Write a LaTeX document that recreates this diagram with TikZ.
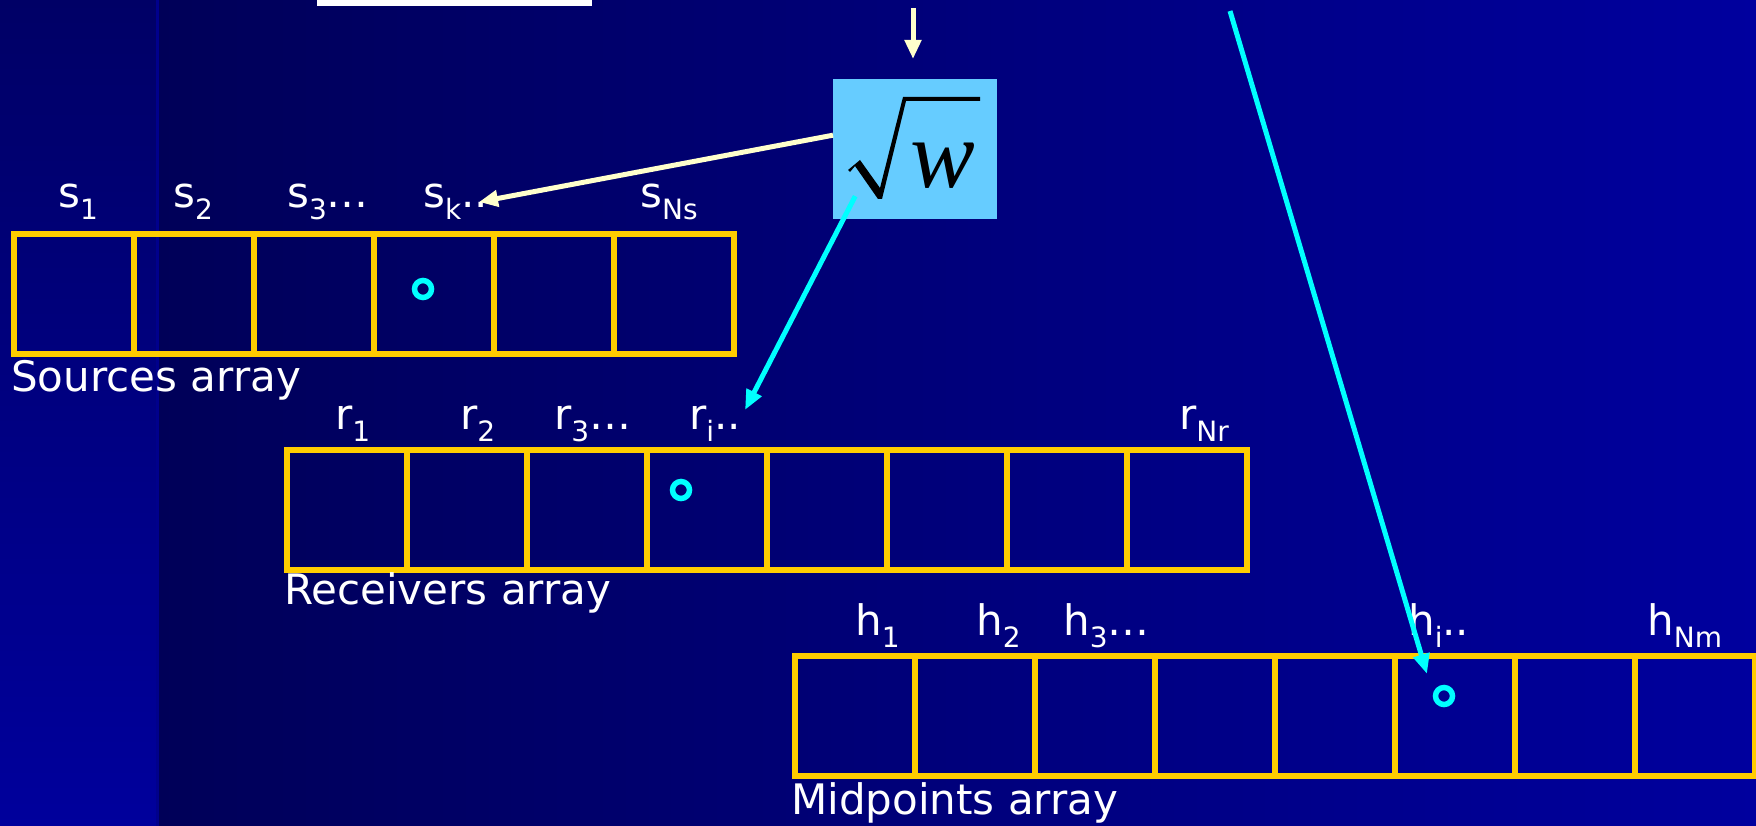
\documentclass[tikz,border=0pt]{standalone}
\usepackage{fontspec}
\setmainfont{DejaVu Sans}
\newfontfamily\tnrfont{Liberation Serif}
\usetikzlibrary{arrows.meta}
\definecolor{cellyellow}{RGB}{255,204,0}
\definecolor{cream}{RGB}{255,255,204}
\definecolor{cyanc}{RGB}{0,255,255}
\definecolor{sqblue}{RGB}{102,204,255}
\definecolor{bgleft}{RGB}{0,0,88}
\definecolor{bgright}{RGB}{0,0,158}
\definecolor{striptop}{RGB}{0,0,102}
\definecolor{stripbot}{RGB}{0,0,156}
\definecolor{stripline}{RGB}{0,0,140}
\newcommand{\lsub}[1]{\raisebox{-12pt}{\fontsize{28}{28}\selectfont #1}}
\begin{document}
\begin{tikzpicture}[x=1pt,y=-1pt,
  cell/.style={draw=cellyellow, line width=6pt, minimum width=120pt, minimum height=120pt, inner sep=0pt, anchor=north west},
  lbl/.style={text=white, font=\fontsize{42}{50}\selectfont, inner sep=0pt, anchor=base west},
  ring/.style={draw=cyanc, line width=5.5pt, circle, minimum size=17pt, inner sep=0pt},
  creamarrow/.style={draw=cream, line width=5pt, -{Triangle[length=19pt,width=16pt]}, fill=cream},
  cyanarrow/.style={draw=cyanc, line width=5pt, -{Triangle[length=20pt,width=16pt]}, fill=cyanc},
]
\useasboundingbox (0,0) rectangle (1756,826);
\clip (0,0) rectangle (1756,826);
% background
\shade[left color=bgleft, right color=bgright] (157,0) rectangle (1756,826);
\shade[top color=striptop, bottom color=stripbot] (0,0) rectangle (157,826);
\draw[stripline, line width=3pt] (157,0) -- (157,826);
% partial boxes at the top edge
\node[fill=white, minimum width=275pt, minimum height=60pt, inner sep=0pt, anchor=south west] (wbox) at (317,6) {};
\node[draw=red, line width=3pt, minimum width=614pt, minimum height=100pt, inner sep=0pt, anchor=south west] (redbox) at (977,0.5) {};
% arrays
\foreach \i in {1,...,6} \node[cell] (s\i) at ({11+120*(\i-1)},231) {};
\foreach \i in {1,...,8} \node[cell] (r\i) at ({284+120*(\i-1)},447) {};
\foreach \i in {1,...,8} \node[cell] (h\i) at ({792+120*(\i-1)},653) {};
% rings
\node[ring] (sdot) at (423,289) {};
\node[ring] (rdot) at (681,490) {};
\node[ring] (hdot) at (1444,696) {};
% labels
\node[lbl] (ls1) at (58,208) {s\lsub{1}};
\node[lbl] (ls2) at (173,208) {s\lsub{2}};
\node[lbl] (ls3) at (287,208) {s\lsub{3}…};
\node[lbl] (lsk) at (423,208) {s\lsub{k}..};
\node[lbl] (lsn) at (640,208) {s\lsub{Ns}};
\node[lbl] (lr1) at (335,429) {r\lsub{1}};
\node[lbl] (lr2) at (460,429) {r\lsub{2}};
\node[lbl] (lr3) at (554,429) {r\lsub{3}…};
\node[lbl] (lri) at (689,429) {r\lsub{i}..};
\node[lbl] (lrn) at (1179,429) {r\lsub{Nr}};
\node[lbl] (lh1) at (855,635) {h\lsub{1}};
\node[lbl] (lh2) at (976,635) {h\lsub{2}};
\node[lbl] (lh3) at (1063,635) {h\lsub{3}…};
\node[lbl] (lhi) at (1408,635) {h\lsub{i}..};
\node[lbl] (lhn) at (1647,635) {h\lsub{Nm}};
% captions
\node[lbl] (srccap) at (11,391) {Sources array};
\node[lbl] (rcvcap) at (284,604) {Receivers array};
\node[lbl] (midcap) at (791,814) {Midpoints array};
% sqrt box
\node[fill=sqblue, minimum width=164pt, minimum height=140pt, inner sep=0pt, anchor=north west] (sq) at (833,79) {};
\fill[black] (848,170) -- (860,160) -- (880,188) -- (903,97) -- (980,97) -- (980,101) -- (906,101) -- (882,199) -- (878,199) -- (855,166) -- (850,172) -- cycle;
\node[inner sep=0pt, anchor=base west, font=\tnrfont\itshape\fontsize{97}{97}\selectfont] (wlet) at (910,188) {w};
% arrows
\coordinate (topstart) at (913,8);
\draw[creamarrow, shorten >=20pt] (topstart) -- (topstart |- sq.north);
\coordinate (sktip) at (479,202);
\draw[creamarrow] ([yshift=14pt]sq.west) -- (sktip);
\coordinate (ritip) at (745,410);
\draw[cyanarrow] ([xshift=-60pt,yshift=-47pt]sq.center) -- (ritip);
\coordinate (hstart) at (1230,11);
\coordinate (hitip) at (1427,674);
\draw[cyanarrow] (hstart) -- (hitip);
\end{tikzpicture}
\end{document}
